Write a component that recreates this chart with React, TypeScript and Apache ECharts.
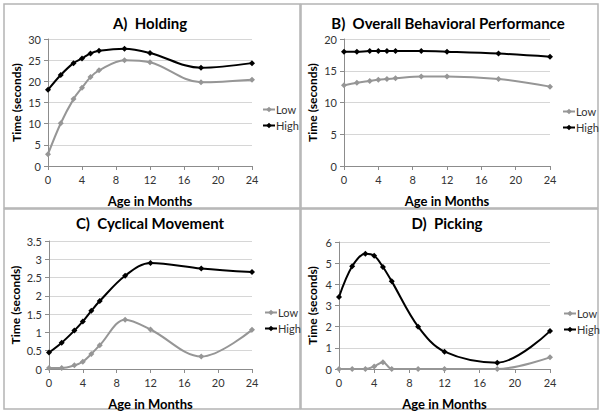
import React, { useEffect, useRef } from "react";
import * as echarts from "echarts";

const ages = [0, 1.5, 3, 4, 5, 6, 9, 12, 18, 24];

const holdingLow = [2.8, 10.1, 15.8, 18.5, 21.0, 22.6, 25.0, 24.5, 19.8, 20.4];
const holdingHigh = [18.0, 21.5, 24.3, 25.4, 26.6, 27.2, 27.7, 26.7, 23.2, 24.3];
const overallLow = [12.7, 13.1, 13.4, 13.6, 13.7, 13.8, 14.1, 14.1, 13.7, 12.5];
const overallHigh = [18.0, 18.0, 18.1, 18.1, 18.1, 18.1, 18.1, 18.0, 17.7, 17.2];
const cyclicalLow = [0.03, 0.03, 0.1, 0.2, 0.41, 0.65, 1.35, 1.08, 0.34, 1.07];
const cyclicalHigh = [0.45, 0.72, 1.05, 1.3, 1.59, 1.86, 2.55, 2.9, 2.75, 2.65];
const pickingLow = [0, 0, 0, 0.12, 0.32, 0, 0, 0, 0, 0.55];
const pickingHigh = [3.4, 4.85, 5.45, 5.35, 4.82, 4.14, 2.0, 0.82, 0.3, 1.79];

const titles = ["A)  Holding", "B)  Overall Behavioral Performance", "C)  Cyclical Movement", "D)  Picking"];
const yMax = [30, 20, 3.5, 6];
const yInterval = [5, 5, 0.5, 1];
const lowSeries = [holdingLow, overallLow, cyclicalLow, pickingLow];
const highSeries = [holdingHigh, overallHigh, cyclicalHigh, pickingHigh];

const FONT = "Lato, 'Open Sans', sans-serif";

export default function App() {
  const ref = useRef<HTMLDivElement>(null);
  useEffect(() => {
    document.body.style.margin = "0";
    if (!ref.current) return;
    const chart = echarts.init(ref.current, null, { renderer: "svg" });

    const grids = [
      { left: 48, top: 39, width: 204, height: 127 },
      { left: 344, top: 39, width: 206, height: 127 },
      { left: 49, top: 241, width: 203, height: 128 },
      { left: 339, top: 242, width: 211, height: 127 },
    ];
    const yNameGap = [26, 26, 28, 21];
    const titlePos = [
      [150, 23],
      [448, 23],
      [150, 223],
      [447, 223],
    ];
    const legendPos = [
      [262, 104],
      [562, 106],
      [264, 307],
      [563, 308],
    ];
    const panels = [
      [4, 4, 296, 204],
      [301, 4, 297, 204],
      [4, 209, 296, 200],
      [301, 209, 297, 200],
    ];

    const xAxis = grids.map((_, i) => ({
      type: "value",
      gridIndex: i,
      min: 0,
      max: 24,
      interval: 4,
      name: "Age in Months",
      nameLocation: "middle",
      nameGap: 28,
      nameTextStyle: { fontFamily: FONT, fontWeight: "bold", fontSize: 13, color: "#000" },
      axisLine: { show: true, lineStyle: { color: "#8c8c8c", width: 1 } },
      axisTick: { show: true, length: 4, inside: false, lineStyle: { color: "#8c8c8c" } },
      axisLabel: { fontFamily: FONT, fontSize: 11, color: "#333", margin: 8 },
      splitLine: { show: false },
    }));
    const yAxis = grids.map((_, i) => ({
      type: "value",
      gridIndex: i,
      min: 0,
      max: yMax[i],
      interval: yInterval[i],
      name: "Time (seconds)",
      nameLocation: "middle",
      nameGap: yNameGap[i],
      nameTextStyle: { fontFamily: FONT, fontWeight: "bold", fontSize: 12, color: "#000" },
      axisLine: { show: true, lineStyle: { color: "#8c8c8c", width: 1 } },
      axisTick: { show: true, length: 4, lineStyle: { color: "#8c8c8c" } },
      axisLabel: { fontFamily: FONT, fontSize: 11, color: "#333", margin: 7 },
      splitLine: { show: true, lineStyle: { color: "#d6d6d6", width: 1 } },
    }));

    const series: any[] = [];
    for (let i = 0; i < 4; i++) {
      series.push({
        name: "Low",
        type: "line",
        xAxisIndex: i,
        yAxisIndex: i,
        data: ages.map((a, k) => [a, lowSeries[i][k]]),
        smooth: 0.35,
        symbol: "diamond",
        symbolSize: 6,
        lineStyle: { color: "#969696", width: 2 },
        itemStyle: { color: "#969696" },
        z: 2,
      });
      series.push({
        name: "High",
        type: "line",
        xAxisIndex: i,
        yAxisIndex: i,
        data: ages.map((a, k) => [a, highSeries[i][k]]),
        smooth: 0.35,
        symbol: "diamond",
        symbolSize: 6,
        lineStyle: { color: "#000", width: 2 },
        itemStyle: { color: "#000" },
        z: 3,
      });
    }

    const legend = legendPos.map(([l, t]) => ({
      data: ["Low", "High"],
      orient: "vertical",
      left: l,
      top: t,
      padding: 0,
      itemGap: 5,
      itemWidth: 12,
      itemHeight: 7,
      textStyle: { fontFamily: FONT, fontSize: 11, color: "#333", padding: [0, 0, 0, -4] },
    }));

    const graphic: any[] = [];
    panels.forEach(([x, y, w, h]) => {
      graphic.push({
        type: "rect",
        shape: { x, y, width: w, height: h },
        style: { fill: "none", stroke: "#b4b4b4", lineWidth: 1.5 },
        silent: true,
      });
    });
    titles.forEach((t, i) => {
      graphic.push({
        type: "text",
        x: titlePos[i][0],
        y: titlePos[i][1],
        style: {
          text: t,
          align: "center",
          verticalAlign: "middle",
          fontFamily: FONT,
          fontWeight: "bold",
          fontSize: 15,
          fill: "#000",
        },
      });
    });

    chart.setOption({
      animation: false,
      backgroundColor: "#fff",
      grid: grids,
      xAxis,
      yAxis,
      series,
      legend,
      graphic,
    });
    return () => chart.dispose();
  }, []);

  return (
    <div
      ref={ref}
      style={{ position: "absolute", left: 0, top: 0, width: 601, height: 418, background: "#fff" }}
    />
  );
}
